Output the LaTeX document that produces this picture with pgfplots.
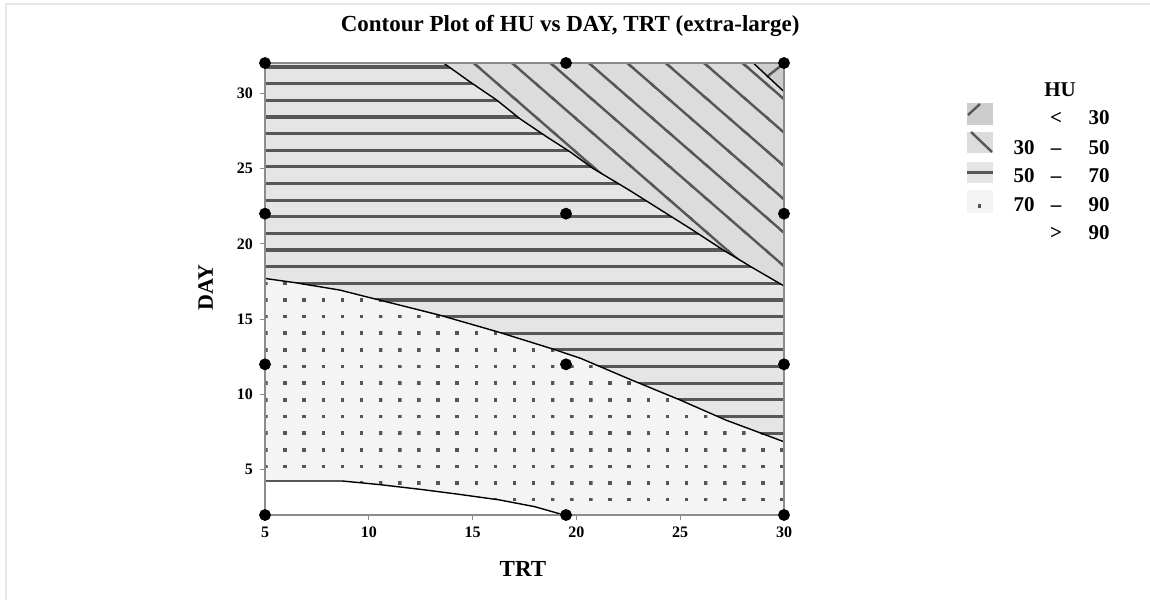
\documentclass[border=0pt]{standalone}
\usepackage{fontspec}
\setmainfont{Liberation Serif}
\usepackage{pgfplots}
\pgfplotsset{compat=1.18}
\usetikzlibrary{patterns}
\definecolor{axisgray}{HTML}{8C8C8C}
\definecolor{framegray}{HTML}{E6E6E6}
\definecolor{hatch}{HTML}{575757}
\definecolor{dotc}{HTML}{555555}
\definecolor{fA}{HTML}{CDCDCD}
\definecolor{fB}{HTML}{DCDCDC}
\definecolor{fC}{HTML}{E5E5E5}
\definecolor{fD}{HTML}{F4F4F4}
\pgfdeclarepatternformonly{HUhlines}{\pgfpoint{-1pt}{-2pt}}{\pgfpoint{41pt}{6.32pt}}{\pgfpoint{40pt}{8.32pt}}{%
  \pgfpathrectangle{\pgfpoint{-1pt}{-0.55pt}}{\pgfpoint{42pt}{1.6pt}}\pgfusepath{fill}}
\pgfdeclarepatternformonly{HUdots}{\pgfpoint{0pt}{-2pt}}{\pgfpoint{9.56pt}{6.32pt}}{\pgfpoint{9.56pt}{8.32pt}}{%
  \pgfpathrectangle{\pgfpoint{7.82pt}{-0.65pt}}{\pgfpoint{1.8pt}{1.8pt}}\pgfusepath{fill}}
\pgfdeclarepatternformonly{HUdiag}{\pgfpoint{-1pt}{-1pt}}{\pgfpoint{20.2pt}{17.7pt}}{\pgfpoint{19.2pt}{16.7pt}}{%
  \pgfsetlinewidth{1.2pt}%
  \pgfpathmoveto{\pgfpoint{-3pt}{-7.19pt}}\pgfpathlineto{\pgfpoint{23pt}{-29.8pt}}%
  \pgfpathmoveto{\pgfpoint{-3pt}{9.51pt}}\pgfpathlineto{\pgfpoint{23pt}{-13.11pt}}%
  \pgfpathmoveto{\pgfpoint{-3pt}{26.21pt}}\pgfpathlineto{\pgfpoint{23pt}{3.59pt}}%
  \pgfpathmoveto{\pgfpoint{-3pt}{42.91pt}}\pgfpathlineto{\pgfpoint{23pt}{20.29pt}}%
  \pgfusepath{stroke}}
\newcommand\lgfont{\fontsize{10.5}{12}\selectfont\bfseries}
\begin{document}
\begin{tikzpicture}
\useasboundingbox (0,0) rectangle (575pt,300pt);
\begin{axis}[
  at={(132.5pt,42.5pt)}, anchor=south west,
  scale only axis, width=259.5pt, height=226pt,
  xmin=5, xmax=30, ymin=2, ymax=32,
  xtick={5,10,...,30}, ytick={5,10,...,30},
  tick align=outside, tick pos=left,
  major tick length=2.5pt,
  axis line style={draw=axisgray, line width=0.75pt},
  every tick/.style={draw=axisgray, line width=0.6pt},
  /pgf/number format/assume math mode=true,
  tick label style={font=\fontsize{8}{9}\selectfont\bfseries},
  axis on top, clip=false,
  title={Contour Plot of HU vs DAY, TRT (extra-large)},
  title style={at={(axis description cs:0.588,1.044)}, anchor=base, font=\fontsize{11.5}{13}\selectfont\bfseries},
  xlabel={TRT}, ylabel={DAY},
  xlabel style={at={(axis description cs:0.497,-0.135)}, anchor=base, font=\fontsize{11.5}{13}\selectfont\bfseries},
  ylabel style={at={(axis description cs:-0.1002,0.503)}, anchor=base, rotate=0, font=\fontsize{11}{13}\selectfont\bfseries},
]
% 70 - 90 (dots)
\addplot[fill=fD, draw=none, postaction={pattern=HUdots, pattern color=dotc}] coordinates {
 (5,4.26)(8.7,4.26)(10.5,4.02)(12.5,3.7)(14.25,3.39)(16.3,3.0)(18,2.55)(19.4,2)
 (30,2)(30,6.86)(27.2,8.3)(25,9.63)(22.5,11.05)(20.2,12.4)(18.9,13.0)(16.2,14.16)
 (13.4,15.27)(10.5,16.27)(8.6,16.93)(6.5,17.41)(5,17.7)} -- cycle;
% 50 - 70 (horizontal lines)
\addplot[fill=fC, draw=none, postaction={pattern=HUhlines, pattern color=hatch}] coordinates {
 (5,17.7)(6.5,17.41)(8.6,16.93)(10.5,16.27)(13.4,15.27)(16.2,14.16)(18.9,13.0)(20.2,12.4)
 (22.5,11.05)(25,9.63)(27.2,8.3)(30,6.86)(30,17.2)(28.5,18.4)(27.08,19.58)(25.5,21.0)
 (24,22.3)(22.5,23.6)(20.8,25.0)(19.7,26.1)(18.57,27.1)(17.28,28.3)(16.16,29.54)
 (14.87,30.75)(13.6,32)(5,32)} -- cycle;
% 30 - 50 (diagonal lines)
\addplot[fill=fB, draw=none, postaction={pattern=HUdiag, pattern color=hatch}] coordinates {
 (13.6,32)(14.87,30.75)(16.16,29.54)(17.28,28.3)(18.57,27.1)(19.7,26.1)(20.8,25.0)
 (22.5,23.6)(24,22.3)(25.5,21.0)(27.08,19.58)(28.5,18.4)(30,17.2)(30,30.1)(28.52,32)} -- cycle;
% < 30
\addplot[fill=fA, draw=none] coordinates {(28.52,32)(30,30.1)(30,32)} -- cycle;
\addplot[hatch, line width=1.2pt] coordinates {(29.17,31.08)(29.89,31.86)};
% contour lines
\addplot[black, line width=0.7pt] coordinates {
 (5,4.26)(8.7,4.26)(10.5,4.02)(12.5,3.7)(14.25,3.39)(16.3,3.0)(18,2.55)(19.4,2)};
\addplot[black, line width=0.7pt] coordinates {
 (5,17.7)(6.5,17.41)(8.6,16.93)(10.5,16.27)(13.4,15.27)(16.2,14.16)(18.9,13.0)(20.2,12.4)
 (22.5,11.05)(25,9.63)(27.2,8.3)(30,6.86)};
\addplot[black, line width=0.7pt] coordinates {
 (13.6,32)(14.87,30.75)(16.16,29.54)(17.28,28.3)(18.57,27.1)(19.7,26.1)(20.8,25.0)
 (22.5,23.6)(24,22.3)(25.5,21.0)(27.08,19.58)(28.5,18.4)(30,17.2)};
\addplot[black, line width=0.7pt] coordinates {(28.52,32)(30,30.1)};
% design points
\addplot[only marks, mark=*, mark size=2.75pt, black] coordinates {
 (5,2)(19.5,2)(30,2)(5,12)(19.5,12)(30,12)(5,22)(19.5,22)(30,22)(5,32)(19.5,32)(30,32)};
\end{axis}
\begin{scope}[x=0.5pt, y=-0.5pt, shift={(0pt,300pt)}]
\draw[framegray, line width=1pt] (6,600) -- (6,4) -- (1150,4);
% legend
\node[anchor=base, font=\lgfont, inner sep=0pt] at (1060,97) {HU};
\fill[fA] (967,103) rectangle (993,125);
\draw[hatch, line width=1.2pt] (968,115) -- (980,104);
\fill[fB] (967,132) rectangle (993,153);
\draw[hatch, line width=1.2pt] (971,132) -- (992,152);
\fill[fC] (967,162) rectangle (993,183);
\fill[hatch] (967,171.5) rectangle (993,174.5);
\fill[fD] (967,190) rectangle (993,213);
\fill[dotc] (977.5,204.5) rectangle (981,208);
\foreach \yb/\l/\m/\r in {125//{<}/30, 155/30/{--}/50, 183/50/{--}/70, 212/70/{--}/90, 240//{>}/90}{
  \node[anchor=base east, font=\lgfont, inner sep=0pt] at (1035,\yb) {\l};
  \node[anchor=base, font=\lgfont, inner sep=0pt] at (1056,\yb) {\m};
  \node[anchor=base east, font=\lgfont, inner sep=0pt] at (1110,\yb) {\r};
}
\end{scope}
\end{tikzpicture}
\end{document}
